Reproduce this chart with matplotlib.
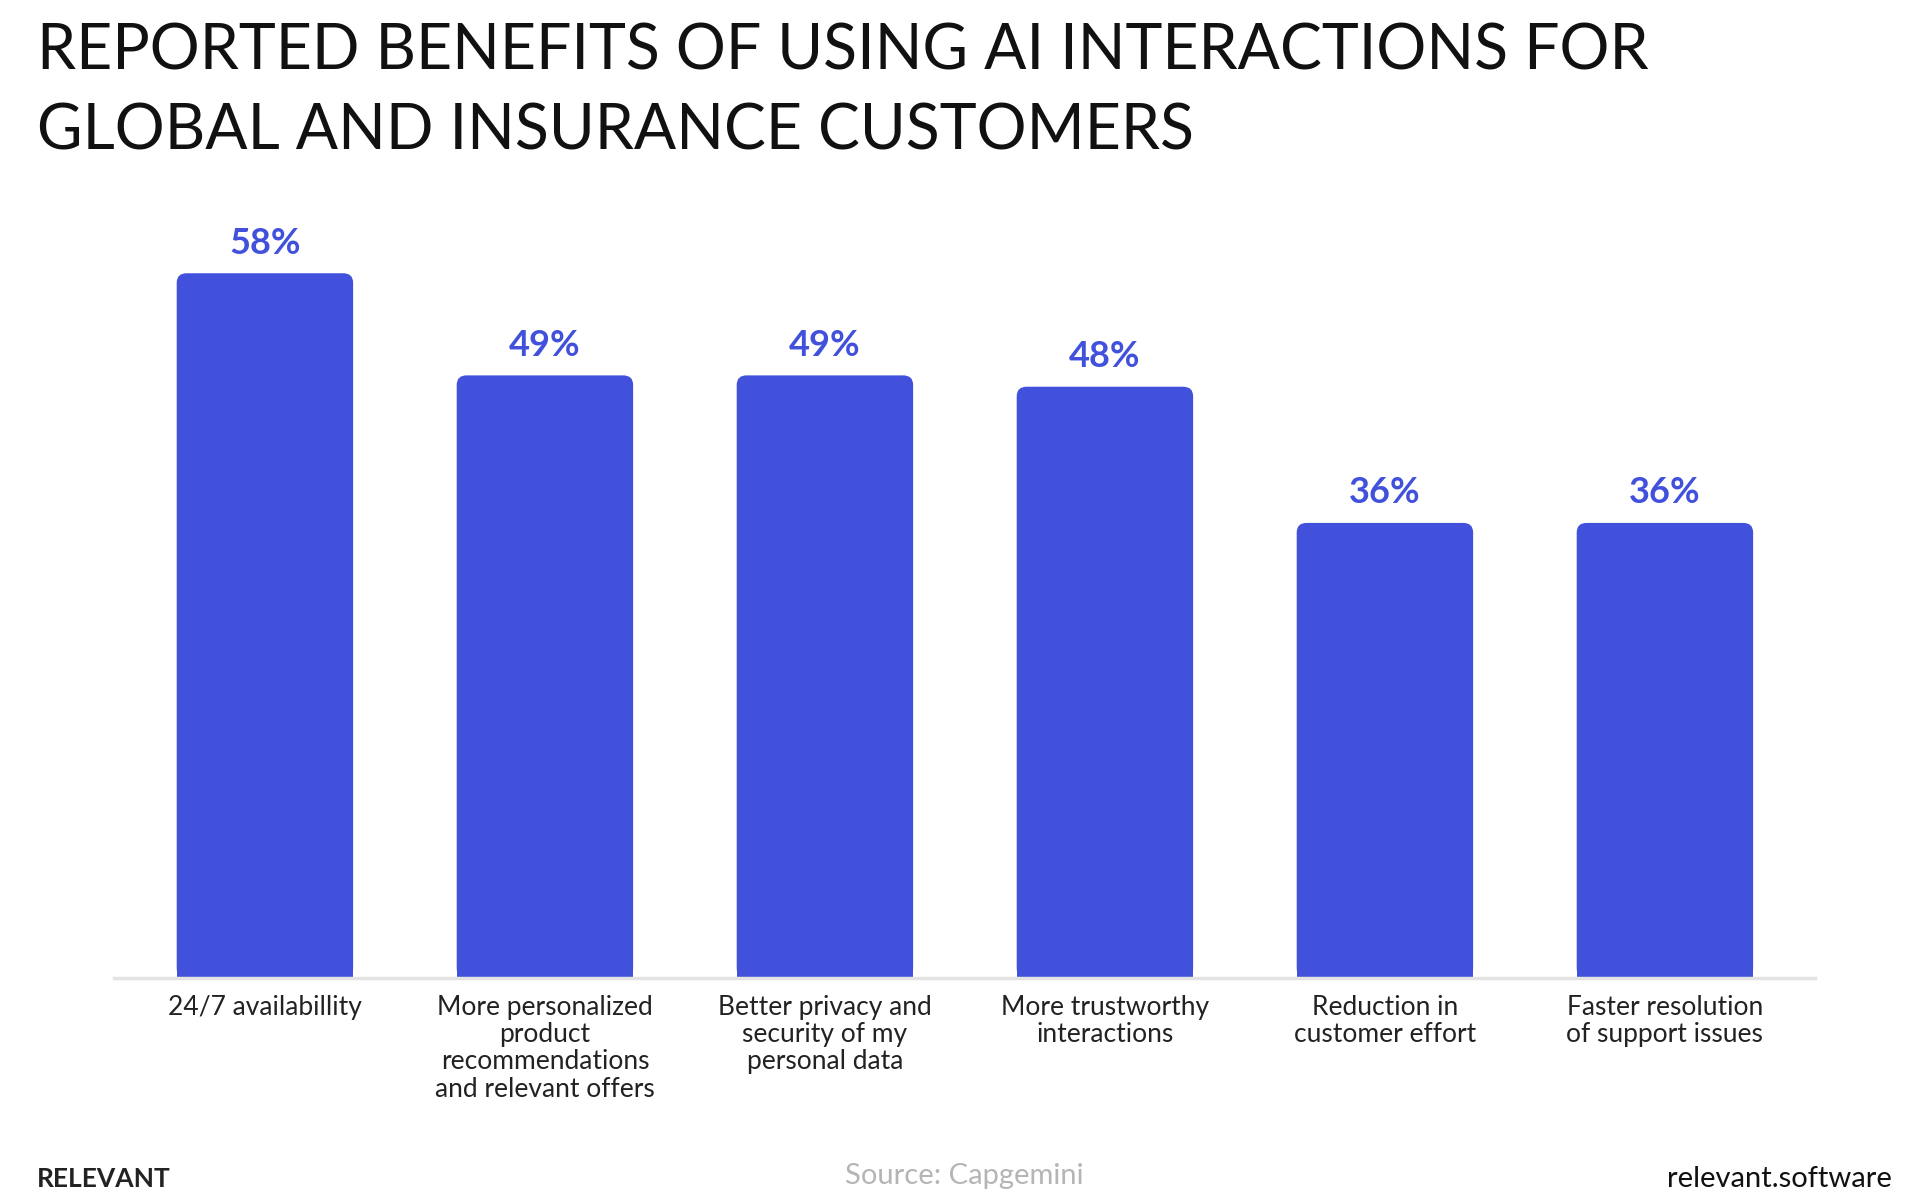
import matplotlib
matplotlib.use("Agg")
import matplotlib.pyplot as plt
from matplotlib.patches import FancyBboxPatch

categories = ["24/7 availabillity",
              "More personalized\nproduct\nrecommendations\nand relevant offers",
              "Better privacy and\nsecurity of my\npersonal data",
              "More trustworthy\ninteractions",
              "Reduction in\ncustomer effort",
              "Faster resolution\nof support issues"]
values = [58, 49, 49, 48, 36, 36]
labels = ["58%", "49%", "49%", "48%", "36%", "36%"]

BAR = "#4151DC"
FONT = "Lato"
YMIN, YMAX = -4.1, 65.6

fig = plt.figure(figsize=(19.2, 12.02), dpi=100)
ax = fig.add_axes([114/1920, 1-978/1202, (1815-114)/1920, (978-187)/1202])
x = list(range(len(values)))
ax.set_xlim(-0.539, 5.536)
ax.set_ylim(YMIN, YMAX)
w = 0.63
for xi, v, lab in zip(x, values, labels):
    p = FancyBboxPatch((xi - w/2, YMIN), w, v - YMIN,
                       boxstyle="round,pad=0,rounding_size=0.035",
                       mutation_aspect=24.0, facecolor=BAR, edgecolor="none")
    ax.add_patch(p)
    ax.bar(xi, (v - YMIN) * 0.9, bottom=YMIN, width=w, color=BAR)
    ax.text(xi, v + 1.2, lab, ha="center", va="bottom", fontsize=26, fontweight="bold",
            color=BAR, family=FONT)
for s in ["top", "right", "left"]:
    ax.spines[s].set_visible(False)
ax.spines["bottom"].set_color("#e3e3e3")
ax.spines["bottom"].set_linewidth(2.5)
ax.set_yticks([])
ax.set_xticks(x)
ax.set_xticklabels(categories, fontsize=19, family=FONT, color="#222222", linespacing=1.12, va="top")
ax.tick_params(axis="x", length=0, pad=12)

fig.text(37/1920, 1-52/1202, "REPORTED BENEFITS OF USING AI INTERACTIONS FOR", fontsize=45,
         family=FONT, va="center", ha="left", color="#111111")
fig.text(37/1920, 1-132/1202, "GLOBAL AND INSURANCE CUSTOMERS", fontsize=45,
         family=FONT, va="center", ha="left", color="#111111")
fig.text(37/1920, 1-1179/1202, "RELEVANT", fontsize=19, fontweight="bold", family=FONT,
         va="center", ha="left", color="#222222")
fig.text(964/1920, 1-1176/1202, "Source: Capgemini", fontsize=21, family=FONT,
         va="center", ha="center", color="#b5b5b5")
fig.text(1892/1920, 1-1179/1202, "relevant.software", fontsize=21, family=FONT,
         va="center", ha="right", color="#111111")
fig.savefig("out.png", dpi=100, facecolor="white")
